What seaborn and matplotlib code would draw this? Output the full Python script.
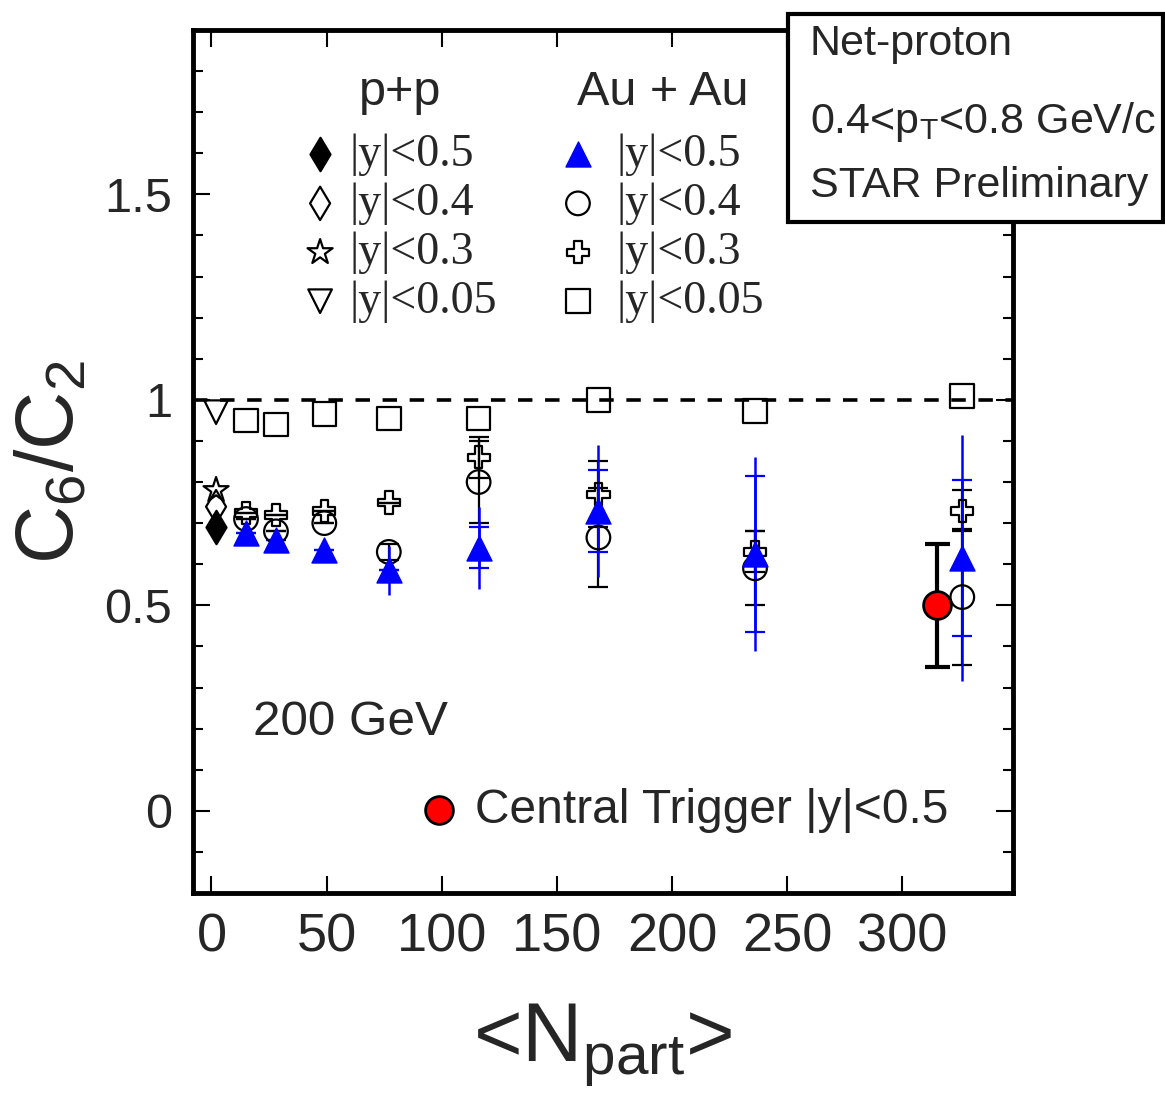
import matplotlib
matplotlib.use("Agg")
import matplotlib.pyplot as plt
import seaborn as sns
import pandas as pd
from matplotlib.patches import Rectangle
from matplotlib.ticker import MultipleLocator

# ---- data ----
pp_npart = [2, 2, 2, 2]
pp_labels = ["|y|<0.5", "|y|<0.4", "|y|<0.3", "|y|<0.05"]
pp_vals = [0.69, 0.74, 0.78, 0.97]

auau_npart = [15, 28, 49, 77, 116, 168, 236, 326]
auau_labels = ["|y|<0.5", "|y|<0.4", "|y|<0.3", "|y|<0.05"]
auau_y05 = [0.675, 0.66, 0.635, 0.585, 0.64, 0.73, 0.625, 0.615]
auau_y05_err = [0.02, 0.02, 0.02, 0.06, 0.10, 0.16, 0.235, 0.30]
auau_y05_err2 = [0.0, 0.0, 0.0, 0.0, 0.05, 0.10, 0.19, 0.19]
auau_y04 = [0.71, 0.68, 0.70, 0.63, 0.80, 0.665, 0.59, 0.52]
auau_y04_err = [0.0, 0.0, 0.0, 0.02, 0.10, 0.12, 0.09, 0.165]
auau_y03 = [0.725, 0.72, 0.73, 0.75, 0.86, 0.77, 0.63, 0.73]
auau_y03_err = [0.0, 0.0, 0.0, 0.0, 0.05, 0.08, 0.05, 0.05]
auau_y005 = [0.95, 0.94, 0.965, 0.955, 0.955, 1.0, 0.973, 1.01]

trig_npart = [315]
trig_vals = [0.50]
trig_err = [0.15]

sns.set_style("ticks")
plt.rcParams['font.family'] = ['Liberation Sans', 'DejaVu Sans']
plt.rcParams['mathtext.fontset'] = 'custom'
plt.rcParams['mathtext.rm'] = 'Liberation Sans'
plt.rcParams['mathtext.it'] = 'Liberation Sans:italic'

fig = plt.figure(figsize=(11.65, 11.03), dpi=100)
ax = fig.add_axes([0.1657, 0.1904, 0.7038, 0.7824])

ax.axhline(1.0, color='black', ls=(0, (4, 3.5)), lw=2.6, zorder=1)

# error bars
ax.errorbar(auau_npart, auau_y04, yerr=auau_y04_err, fmt='none', ecolor='black',
            elinewidth=1.6, capsize=7, capthick=1.6, zorder=2)
ax.errorbar(auau_npart, auau_y03, yerr=auau_y03_err, fmt='none', ecolor='black',
            elinewidth=1.6, capsize=7, capthick=1.6, zorder=2)
ax.errorbar(auau_npart, auau_y05, yerr=auau_y05_err, fmt='none', ecolor='blue',
            elinewidth=1.8, capsize=0, zorder=2.5)
ax.errorbar(auau_npart, auau_y05, yerr=auau_y05_err2, fmt='none', ecolor='blue',
            elinewidth=1.8, capsize=7, capthick=1.6, zorder=2.5)
ax.errorbar(trig_npart, trig_vals, yerr=trig_err, fmt='none', ecolor='black',
            elinewidth=3, capsize=9, capthick=3, zorder=2)


def draw(xs, ys, marker, size, face, edge, lw=1.6, z=3):
    df = pd.DataFrame({"x": xs, "y": ys})
    sns.scatterplot(data=df, x="x", y="y", marker=marker, s=size ** 2,
                    facecolor=face, edgecolor=edge, linewidth=lw, zorder=z, ax=ax)
    return ax.collections[-1]


pp_styles = [("d", 17, "black", "black"), ("d", 17, "none", "black"),
             ("*", 19, "none", "black"), ("v", 17, "none", "black")]
pp_handles = []
for i, (m, s, f, e) in enumerate(pp_styles):
    pp_handles.append(draw([pp_npart[i]], [pp_vals[i]], m, s, f, e))

h_sq = draw(auau_npart, auau_y005, "s", 17, "none", "black")
h_cr = draw(auau_npart, auau_y03, "P", 16, "none", "black")
h_ci = draw(auau_npart, auau_y04, "o", 17, "none", "black")
h_tr = draw(auau_npart, auau_y05, "^", 18, "blue", "blue", lw=1, z=4)
h_trig = draw(trig_npart, trig_vals, "o", 20, "red", "black", lw=2, z=4)

ax.set_xlim(-8, 348)
ax.set_ylim(-0.2, 1.9)
ax.set_xticks([0, 50, 100, 150, 200, 250, 300])
ax.set_yticks([0, 0.5, 1, 1.5])
ax.set_yticklabels(["0", "0.5", "1", "1.5"])
ax.yaxis.set_minor_locator(MultipleLocator(0.1))
ax.tick_params(axis='both', which='both', direction='in', top=True, right=True,
               width=1.5, color='black')
ax.tick_params(axis='both', which='major', length=12)
ax.tick_params(axis='y', which='minor', length=7)
ax.tick_params(axis='x', which='major', labelsize=39, pad=14)
ax.tick_params(axis='y', which='major', labelsize=35, pad=15)
for sp in ax.spines.values():
    sp.set_linewidth(3.5)
    sp.set_color('black')

ax.set_xlabel(r'<N$_{\mathregular{part}}$>', fontsize=60, labelpad=28)
ax.set_ylabel(r'C$_{\mathregular{6}}$/C$_{\mathregular{2}}$', fontsize=58, labelpad=10)

# legend blocks
serif = {'family': ['Liberation Serif', 'DejaVu Serif'], 'size': 33}
ax.text(0.2524, 0.928, 'p+p', transform=ax.transAxes, fontsize=35,
        ha='center', va='center')
ax.text(0.573, 0.928, 'Au + Au', transform=ax.transAxes, fontsize=35,
        ha='center', va='center')
leg1 = ax.legend(pp_handles, pp_labels, loc='upper left', bbox_to_anchor=(0.127, 0.8795),
                 frameon=False, prop=serif, handlelength=1.0, handletextpad=0.15,
                 labelspacing=0.14, borderpad=0, borderaxespad=0, scatterpoints=1)
ax.add_artist(leg1)
leg2 = ax.legend([h_tr, h_ci, h_cr, h_sq], auau_labels, loc='upper left',
                 bbox_to_anchor=(0.4415, 0.8795), frameon=False, prop=serif,
                 handlelength=1.0, handletextpad=0.35, labelspacing=0.14,
                 borderpad=0, borderaxespad=0, scatterpoints=1)
ax.add_artist(leg2)
ax.legend([h_trig], ['Central Trigger |y|<0.5'], loc='center left',
          bbox_to_anchor=(0.271, 0.096), frameon=False, fontsize=34.5,
          handlelength=1.0, handletextpad=0.25, borderpad=0, borderaxespad=0,
          scatterpoints=1)

ax.text(0.073, 0.183, '200 GeV', transform=ax.transAxes, fontsize=35.6, va='baseline')

# info box (sticks out of the axes frame)
fig.patches.append(Rectangle((788 / 1165, 1 - 222 / 1103), 375 / 1165, 208 / 1103,
                             transform=fig.transFigure, facecolor='white',
                             edgecolor='black', lw=3, zorder=10))
box_lines = ['Net-proton', r'0.4<p$_{\mathregular{T}}$<0.8 GeV/c', 'STAR Preliminary']
box_base = [55, 133, 197]
for t, yb in zip(box_lines, box_base):
    fig.text(810 / 1165, 1 - yb / 1103, t, fontsize=31, va='baseline', zorder=11)

fig.savefig('out.png', dpi=100, facecolor='white')
